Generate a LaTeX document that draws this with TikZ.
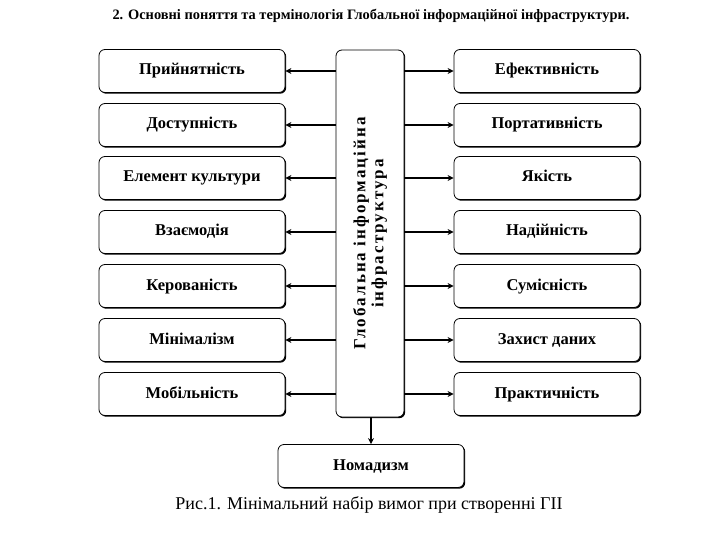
\documentclass[tikz,border=0pt]{standalone}
\usepackage{fontspec}
\setmainfont{Liberation Serif}
\usetikzlibrary{arrows.meta,shadows}

\begin{document}
\begin{tikzpicture}[x=1bp,y=-1bp]

        \useasboundingbox[fill=white] (0,0) rectangle (720,540);

        \node (title) at (371,16) {\fontsize{14.4bp}{16bp}\selectfont\bfseries 2. Основні поняття та термінологія Глобальної інформаційної інфраструктури.};

        \begin{scope}[every node/.style={draw,thick,fill=white,rounded corners=6bp,
            drop shadow={shadow xshift=1.2bp,shadow yshift=-1.2bp,fill=black,opacity=1},
            minimum width=186bp,minimum height=43bp,text height=11bp,text depth=3bp,
            font=\fontsize{16.5bp}{18bp}\selectfont\bfseries}]
          \node (l1) at (192,71)  {Прийнятність};
          \node (l2) at (192,125) {Доступність};
          \node (l3) at (192,178) {Елемент культури};
          \node (l4) at (192,232) {Взаємодія};
          \node (l5) at (192,286) {Керованість};
          \node (l6) at (192,340) {Мінімалізм};
          \node (l7) at (192,394) {Мобільність};
          \node (r1) at (547,71)  {Ефективність};
          \node (r2) at (547,125) {Портативність};
          \node (r3) at (547,178) {Якість};
          \node (r4) at (547,232) {Надійність};
          \node (r5) at (547,286) {Сумісність};
          \node (r6) at (547,340) {Захист даних};
          \node (r7) at (547,394) {Практичність};
          \node (nom) at (371,466) {Номадизм};
          \node[minimum width=68bp,minimum height=367bp] (gii) at (370,233.5) {};
        \end{scope}

        \node[rotate=90,align=center,font=\fontsize{17bp}{18bp}\selectfont\bfseries] (giitext) at (gii.center)
          {\addfontfeatures{LetterSpace=12}Глобальна інформаційна\\ \addfontfeatures{LetterSpace=12}інфраструктура};

        \begin{scope}[every edge/.style={draw,line width=2.4bp,-{Stealth[length=6bp,width=6bp]}}]
          \path (gii.west |- l1) edge (l1.east);
          \path (gii.west |- l2) edge (l2.east);
          \path (gii.west |- l3) edge (l3.east);
          \path (gii.west |- l4) edge (l4.east);
          \path (gii.west |- l5) edge (l5.east);
          \path (gii.west |- l6) edge (l6.east);
          \path (gii.west |- l7) edge (l7.east);
          \path (gii.east |- r1) edge (r1.west);
          \path (gii.east |- r2) edge (r2.west);
          \path (gii.east |- r3) edge (r3.west);
          \path (gii.east |- r4) edge (r4.west);
          \path (gii.east |- r5) edge (r5.west);
          \path (gii.east |- r6) edge (r6.west);
          \path (gii.east |- r7) edge (r7.west);
          \path (gii.south -| nom) edge (nom.north);
        \end{scope}

        \node (caption) at (369,505) {\fontsize{18bp}{21bp}\selectfont Рис.1. Мінімальний набір вимог при створенні ГІІ};

      \end{tikzpicture}
\end{document}
